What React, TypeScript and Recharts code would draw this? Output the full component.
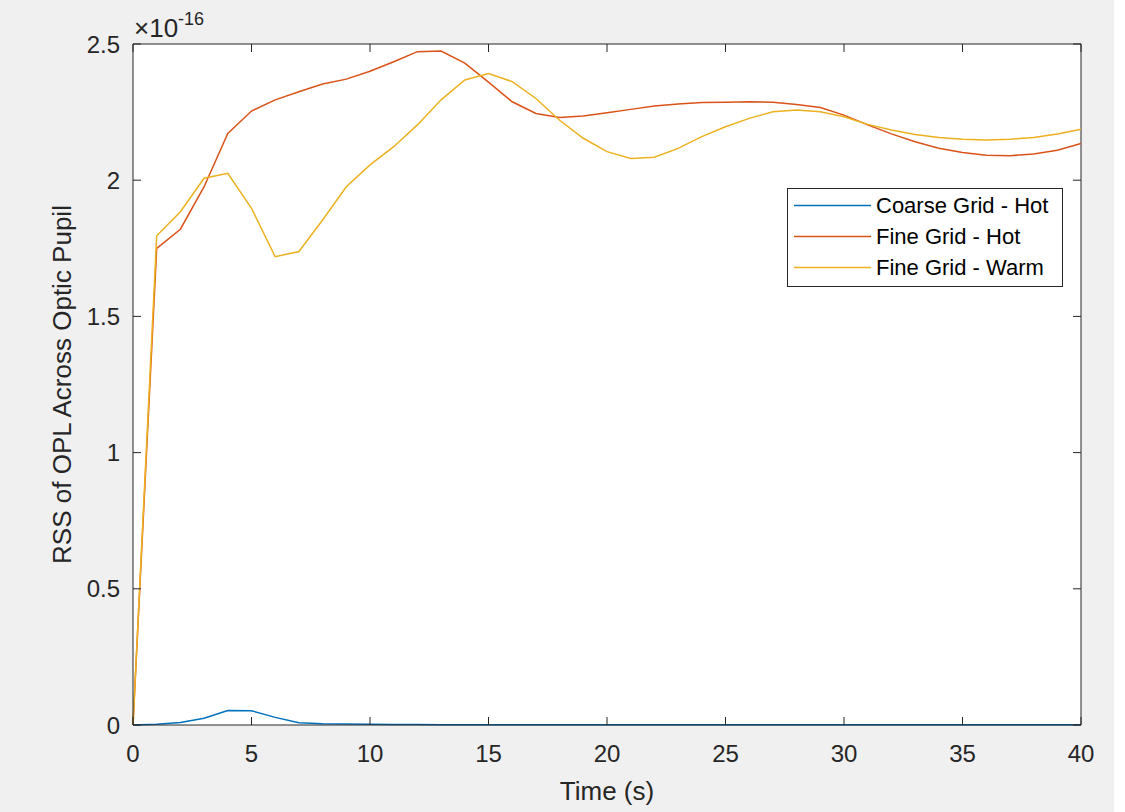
import { LineChart, Line, XAxis, YAxis, CartesianGrid, Legend, ReferenceLine, Label } from "recharts";

// values are in units of 1e-16 (the axis carries the x10^-16 multiplier)
const timeS = [0, 1, 2, 3, 4, 5, 6, 7, 8, 9, 10, 11, 12, 13, 14, 15, 16, 17, 18, 19, 20, 21, 22, 23, 24, 25, 26, 27, 28, 29, 30, 31, 32, 33, 34, 35, 36, 37, 38, 39, 40];

const coarseHot = [0, 0.003, 0.009, 0.025, 0.053, 0.052, 0.028, 0.008, 0.005, 0.004, 0.003, 0.002, 0.002, 0.001, 0.001, 0.001, 0.001, 0.001, 0.001, 0.001, 0.001, 0.001, 0.001, 0.001, 0.001, 0.001, 0.001, 0.001, 0.001, 0.001, 0.001, 0.001, 0.001, 0.001, 0.001, 0.001, 0.001, 0.001, 0.001, 0.001, 0.001];

const fineHot = [0, 1.75, 1.82, 1.976, 2.172, 2.254, 2.295, 2.325, 2.353, 2.371, 2.4, 2.435, 2.472, 2.474, 2.43, 2.36, 2.288, 2.245, 2.23, 2.236, 2.248, 2.26, 2.272, 2.28, 2.285, 2.286, 2.288, 2.286, 2.278, 2.267, 2.239, 2.203, 2.17, 2.141, 2.117, 2.102, 2.092, 2.09, 2.096, 2.11, 2.135];

const fineWarm = [0, 1.796, 1.884, 2.007, 2.025, 1.897, 1.719, 1.738, 1.854, 1.976, 2.056, 2.123, 2.203, 2.295, 2.368, 2.392, 2.362, 2.3, 2.22, 2.154, 2.105, 2.08, 2.084, 2.117, 2.16, 2.196, 2.227, 2.251, 2.258, 2.251, 2.233, 2.205, 2.184, 2.168, 2.157, 2.15, 2.148, 2.15, 2.157, 2.17, 2.187];

const xTicks = [0, 5, 10, 15, 20, 25, 30, 35, 40];
const yTicks = [0, 0.5, 1, 1.5, 2, 2.5];

const rows = timeS.map((t, i) => ({
  t,
  coarseHot: coarseHot[i],
  fineHot: fineHot[i],
  fineWarm: fineWarm[i],
}));

const FONT = '"Liberation Sans", Arial, Helvetica, sans-serif';
const INK = "#262626";
const PLOT_W = 948;
const PLOT_H = 681;
const TICK_LEN = 8;

const XTick = (props: any) => {
  const { x, y, payload } = props;
  return (
    <g>
      <line x1={x} y1={y} x2={x} y2={y - TICK_LEN} stroke={INK} strokeWidth={1} />
      <line x1={x} y1={y - PLOT_H} x2={x} y2={y - PLOT_H + TICK_LEN} stroke={INK} strokeWidth={1} />
      <text x={x} y={y + 37} textAnchor="middle" fontSize={24} fontFamily={FONT} fill={INK}>
        {payload.value}
      </text>
    </g>
  );
};

const YTick = (props: any) => {
  const { x, y, payload } = props;
  return (
    <g>
      <line x1={x} y1={y} x2={x + TICK_LEN} y2={y} stroke={INK} strokeWidth={1} />
      <line x1={x + PLOT_W} y1={y} x2={x + PLOT_W - TICK_LEN} y2={y} stroke={INK} strokeWidth={1} />
      <text x={x - 13} y={y + 8.5} textAnchor="end" fontSize={24} fontFamily={FONT} fill={INK}>
        {payload.value}
      </text>
    </g>
  );
};

const renderLegend = (props: any) => {
  const { payload } = props;
  return (
    <div style={{ border: `1px solid ${INK}`, background: "#fff", padding: "1px 0 3px 0", fontFamily: FONT, fontSize: 22, color: "#000" }}>
      {payload.map((entry: any) => (
        <div key={entry.value} style={{ display: "flex", alignItems: "center", height: 31 }}>
          <svg width={88} height={31} style={{ flex: "none" }}>
            <line x1={6} y1={15.5} x2={83} y2={15.5} stroke={entry.color} strokeWidth={1.5} />
          </svg>
          <span style={{ whiteSpace: "nowrap" }}>{entry.value}</span>
        </div>
      ))}
    </div>
  );
};

export default function App() {
  return (
    <div style={{ position: "absolute", left: 0, top: 0, width: 1125, height: 812, background: "#fff", overflow: "hidden" }}>
      <div style={{ position: "absolute", left: 0, top: 0, width: 1114, height: 812, background: "#f0f0f0" }} />
      <div style={{ position: "absolute", left: 0, top: 0 }}>
        <LineChart width={1125} height={812} data={rows} margin={{ top: 44, right: 44, left: 0, bottom: 0 }}>
          <CartesianGrid horizontal={false} vertical={false} fill="#ffffff" />
          <XAxis
            dataKey="t"
            type="number"
            domain={[0, 40]}
            ticks={xTicks}
            height={87}
            tickSize={0}
            tickMargin={0}
            tick={<XTick />}
            axisLine={{ stroke: INK }}
            interval={0}
          >
            <Label
              content={(p: any) => {
                const vb = p.viewBox;
                return (
                  <text x={vb.x + vb.width / 2} y={vb.y + 75} textAnchor="middle" fontSize={26} fontFamily={FONT} fill={INK}>
                    Time (s)
                  </text>
                );
              }}
            />
          </XAxis>
          <YAxis
            type="number"
            domain={[0, 2.5]}
            ticks={yTicks}
            width={133}
            tickSize={0}
            tickMargin={0}
            tick={<YTick />}
            axisLine={{ stroke: INK }}
            interval={0}
          >
            <Label
              content={(p: any) => {
                const vb = p.viewBox;
                const cx = vb.x + 62;
                const cy = vb.y + vb.height / 2;
                return (
                  <text x={cx} y={cy} transform={`rotate(-90, ${cx}, ${cy})`} textAnchor="middle" dominantBaseline="central" fontSize={26} fontFamily={FONT} fill={INK}>
                    RSS of OPL Across Optic Pupil
                  </text>
                );
              }}
            />
          </YAxis>
          <ReferenceLine y={2.5} stroke={INK} strokeWidth={1} />
          <ReferenceLine x={40} stroke={INK} strokeWidth={1} />
          <Line type="linear" dataKey="coarseHot" name="Coarse Grid - Hot" stroke="#0072BD" strokeWidth={1.5} dot={false} isAnimationActive={false} />
          <Line type="linear" dataKey="fineHot" name="Fine Grid - Hot" stroke="#D95319" strokeWidth={1.5} dot={false} isAnimationActive={false} />
          <Line type="linear" dataKey="fineWarm" name="Fine Grid - Warm" stroke="#EDB120" strokeWidth={1.5} dot={false} isAnimationActive={false} />
          <Legend
            layout="horizontal"
            verticalAlign="middle"
            align="center"
            content={renderLegend}
            wrapperStyle={{ position: "absolute", left: 787, top: 188, width: 276, height: "auto" }}
          />
        </LineChart>
      </div>
      <svg width={120} height={44} style={{ position: "absolute", left: 120, top: 0 }}>
        <text x={14} y={37} fontSize={26} fontFamily={FONT} fill={INK}>
          ×10
          <tspan fontSize={18} dy={-12}>
            -16
          </tspan>
        </text>
      </svg>
    </div>
  );
}
